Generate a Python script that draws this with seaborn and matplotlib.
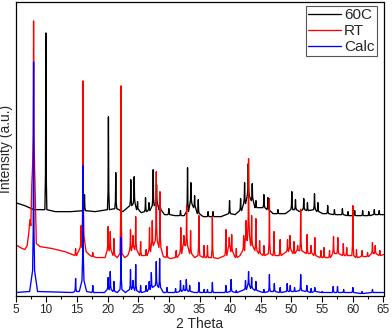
import numpy as np
import pandas as pd
import matplotlib
matplotlib.use("Agg")
import matplotlib.pyplot as plt
from matplotlib.ticker import MultipleLocator
import seaborn as sns

# picos: posicion (2 theta), altura, nivel del pie
pk_60c_pos = [9.95, 16.25, 20.15, 21.35, 23.8, 24.35, 24.9, 26.2, 26.75, 27.45, 28.0, 28.55,
              30.0, 31.9, 33.05, 33.6, 34.2, 34.8, 36.4, 37.2, 39.9, 41.7, 42.35, 42.95,
              43.6, 44.2, 45.5, 46.15, 47.8, 50.05, 50.65, 52.0, 52.6, 53.75, 54.3, 55.9,
              57.0, 58.3, 59.2, 60.3, 61.6, 62.6, 63.5, 64.3]
pk_60c_top = [263, 101, 179, 123, 116, 119, 94, 98, 93, 126, 111, 100,
              87, 85, 128, 113, 100, 96, 84, 84, 95, 97, 113, 132,
              112, 95, 101, 98, 86, 104, 96, 97, 93, 102, 93, 90,
              86, 87, 84, 85, 85, 84, 86, 85]
pk_60c_foot = [86, 85, 86, 87, 90, 92, 86, 84, 85, 90, 92, 86,
               81, 80, 84, 92, 88, 82, 79, 79, 82, 85, 92, 100,
               95, 88, 88, 86, 82, 86, 86, 86, 85, 86, 84, 82,
               81, 81, 80, 80, 80, 80, 81, 81]
bg_60c_x = [5, 6.5, 8, 9.2, 11.5, 14, 18, 22.5, 25.5, 29.3, 31, 32.5, 35.6, 38.5, 40.8,
            47, 49, 51.3, 55.1, 65]
bg_60c_y = [93, 90, 86, 86, 84, 84, 84, 84, 83, 81, 80, 80, 79, 79, 81,
            82, 82, 84, 82, 81]

pk_rt_pos = [7.95, 14.8, 15.7, 16.0, 17.6, 20.1, 20.45, 21.05, 22.2, 23.75, 24.15, 24.6,
             25.4, 26.3, 26.85, 27.3, 27.95, 28.55, 29.7, 31.2, 31.95, 32.45, 32.9, 33.55,
             34.9, 35.75, 36.3, 37.1, 39.3, 39.85, 40.25, 41.0, 42.2, 42.6, 43.0, 43.5,
             44.2, 44.8, 45.5, 46.4, 47.15, 48.15, 49.35, 49.75, 50.4, 51.0, 51.5, 52.55,
             53.2, 53.8, 54.8, 55.3, 56.2, 56.85, 57.55, 58.45, 59.0, 60.0, 60.6, 61.5,
             62.4, 63.2, 63.65, 64.4]
pk_rt_top = [275, 47, 70, 215, 43, 69, 64, 57, 210, 66, 60, 79,
             54, 46, 68, 75, 124, 104, 49, 45, 68, 60, 90, 65,
             80, 50, 50, 79, 66, 58, 61, 47, 60, 75, 137, 80,
             77, 55, 50, 97, 64, 56, 56, 60, 54, 50, 86, 61,
             50, 58, 45, 48, 45, 59, 58, 52, 48, 90, 46, 45,
             43, 53, 50, 45]
pk_rt_foot = [130, 40, 48, 60, 39, 45, 45, 40, 42, 45, 48, 46,
              40, 40, 44, 50, 55, 48, 38, 38, 42, 50, 50, 42,
              40, 38, 38, 38, 40, 48, 44, 38, 45, 55, 60, 50,
              45, 42, 40, 42, 40, 40, 44, 46, 42, 45, 45, 42,
              42, 40, 38, 38, 38, 42, 42, 40, 40, 40, 38, 39,
              39, 42, 42, 40]
bg_rt_x = [5, 5.8, 6.5, 6.9, 7.15, 7.35, 7.5, 7.65, 7.75, 8.4, 9, 11, 13, 14.3, 16.5,
           17.2, 18.2, 19.6, 21.6, 22.8, 23.3, 29.1, 30.3, 34.2, 38, 41.6, 65]
bg_rt_y = [51, 48, 46, 50, 62, 76, 70, 110, 126, 52, 49, 47, 44, 41, 44,
           40, 38, 38, 38, 38, 40, 39, 37, 38, 37, 40, 41]

pk_calc_pos = [7.95, 14.8, 16.0, 17.6, 20.1, 20.45, 21.05, 22.2, 23.75, 24.15, 24.6, 25.4,
               26.3, 26.8, 27.15, 27.95, 28.5, 29.7, 31.1, 31.9, 32.4, 32.85, 33.4, 34.9,
               35.75, 36.3, 37.1, 39.3, 40.15, 41.0, 42.5, 43.0, 43.5, 44.2, 45.5, 46.4,
               47.2, 48.15, 49.3, 49.8, 50.5, 51.5, 52.5, 53.2, 53.8, 55.0, 56.8, 57.5,
               58.5, 60.0, 61.5, 63.2]
pk_calc_top = [234, 17, 130, 10, 18, 24, 14, 58, 26, 15, 31, 10,
               10, 14, 23, 34, 37, 8, 7, 15, 10, 16, 10, 13,
               6, 6, 13, 10, 16, 5, 15, 24, 18, 14, 6, 21,
               12, 8, 12, 10, 8, 21, 10, 7, 8, 4, 9, 9,
               6, 8, 4, 6]
pk_calc_foot = [25, 4, 15, 3, 6, 6, 4, 6, 6, 7, 5, 3,
                4, 6, 8, 10, 8, 3, 3, 4, 5, 5, 4, 3,
                3, 3, 3, 3, 4, 3, 6, 10, 7, 5, 3, 4,
                4, 3, 4, 4, 4, 5, 4, 3, 4, 3, 3, 3,
                3, 3, 2, 3]
bg_calc_x = [5, 7.3, 8.6, 14.3, 15.4, 16.6, 19.5, 21.6, 22.9, 29.1, 34.2, 38.2, 65]
bg_calc_y = [3, 4, 4, 3, 4, 4, 3, 3, 3, 3, 3, 3, 3]

muestras = ["60C", "RT", "Calc"]
colores = {"60C": "black", "RT": "red", "Calc": "blue"}

# forma del pico dibujado: pie, hombro, cima
W_PIE = 0.16
W_HOMBRO = 0.06
F_HOMBRO = 0.2


def vertices(pos, top, foot, bx, by, nombre):
    xs = list(bx)
    ys = list(by)
    for p, t, f in zip(pos, top, foot):
        h = f + F_HOMBRO * (t - f)
        xs += [p - W_PIE, p - W_HOMBRO, p, p + W_HOMBRO, p + W_PIE]
        ys += [f, h, t, h, f]
    d = pd.DataFrame({"2 Theta": xs, "I": ys})
    d = d.sort_values("2 Theta")
    d["muestra"] = nombre
    return d


df = pd.concat([
    vertices(pk_60c_pos, pk_60c_top, pk_60c_foot, bg_60c_x, bg_60c_y, "60C"),
    vertices(pk_rt_pos, pk_rt_top, pk_rt_foot, bg_rt_x, bg_rt_y, "RT"),
    vertices(pk_calc_pos, pk_calc_top, pk_calc_foot, bg_calc_x, bg_calc_y, "Calc"),
], ignore_index=True)

sns.set_style("ticks")
plt.rcParams["font.family"] = ["Liberation Sans", "DejaVu Sans"]

fig = plt.figure(figsize=(3.92, 3.32), dpi=100)
ax = fig.add_axes([15.5 / 392, 36.5 / 332, 368 / 392, 293.5 / 332])

sns.lineplot(data=df, x="2 Theta", y="I", hue="muestra", hue_order=muestras,
             palette=colores, estimator=None, sort=False, linewidth=0.95, ax=ax)

ax.set_xlim(5, 65)
ax.set_ylim(0, 294)
ax.set_yticks([])
ax.xaxis.set_major_locator(MultipleLocator(5))
ax.xaxis.set_minor_locator(MultipleLocator(2.5))
ax.tick_params(axis="x", which="major", direction="out", length=4, width=0.8,
               labelsize=8.5, pad=2, color="black")
ax.tick_params(axis="x", which="minor", direction="out", length=2.5, width=0.8, color="black")
for s in ax.spines.values():
    s.set_visible(True)
    s.set_color("black")
    s.set_linewidth(0.9)

ax.set_xlabel("2 Theta", fontsize=10, labelpad=1)
ax.set_ylabel("Intensity (a.u.)", fontsize=10, labelpad=2)

leg = ax.legend(loc="upper right", bbox_to_anchor=(1 - 6.5 / 368, 1 - 4 / 293.5),
                borderaxespad=0, fontsize=11, handlelength=2.15, handletextpad=0.2,
                labelspacing=0.12, borderpad=0.15, fancybox=False, framealpha=1,
                edgecolor="#555555", title=None)
leg.get_frame().set_linewidth(0.8)

fig.savefig("out.png", dpi=100)
